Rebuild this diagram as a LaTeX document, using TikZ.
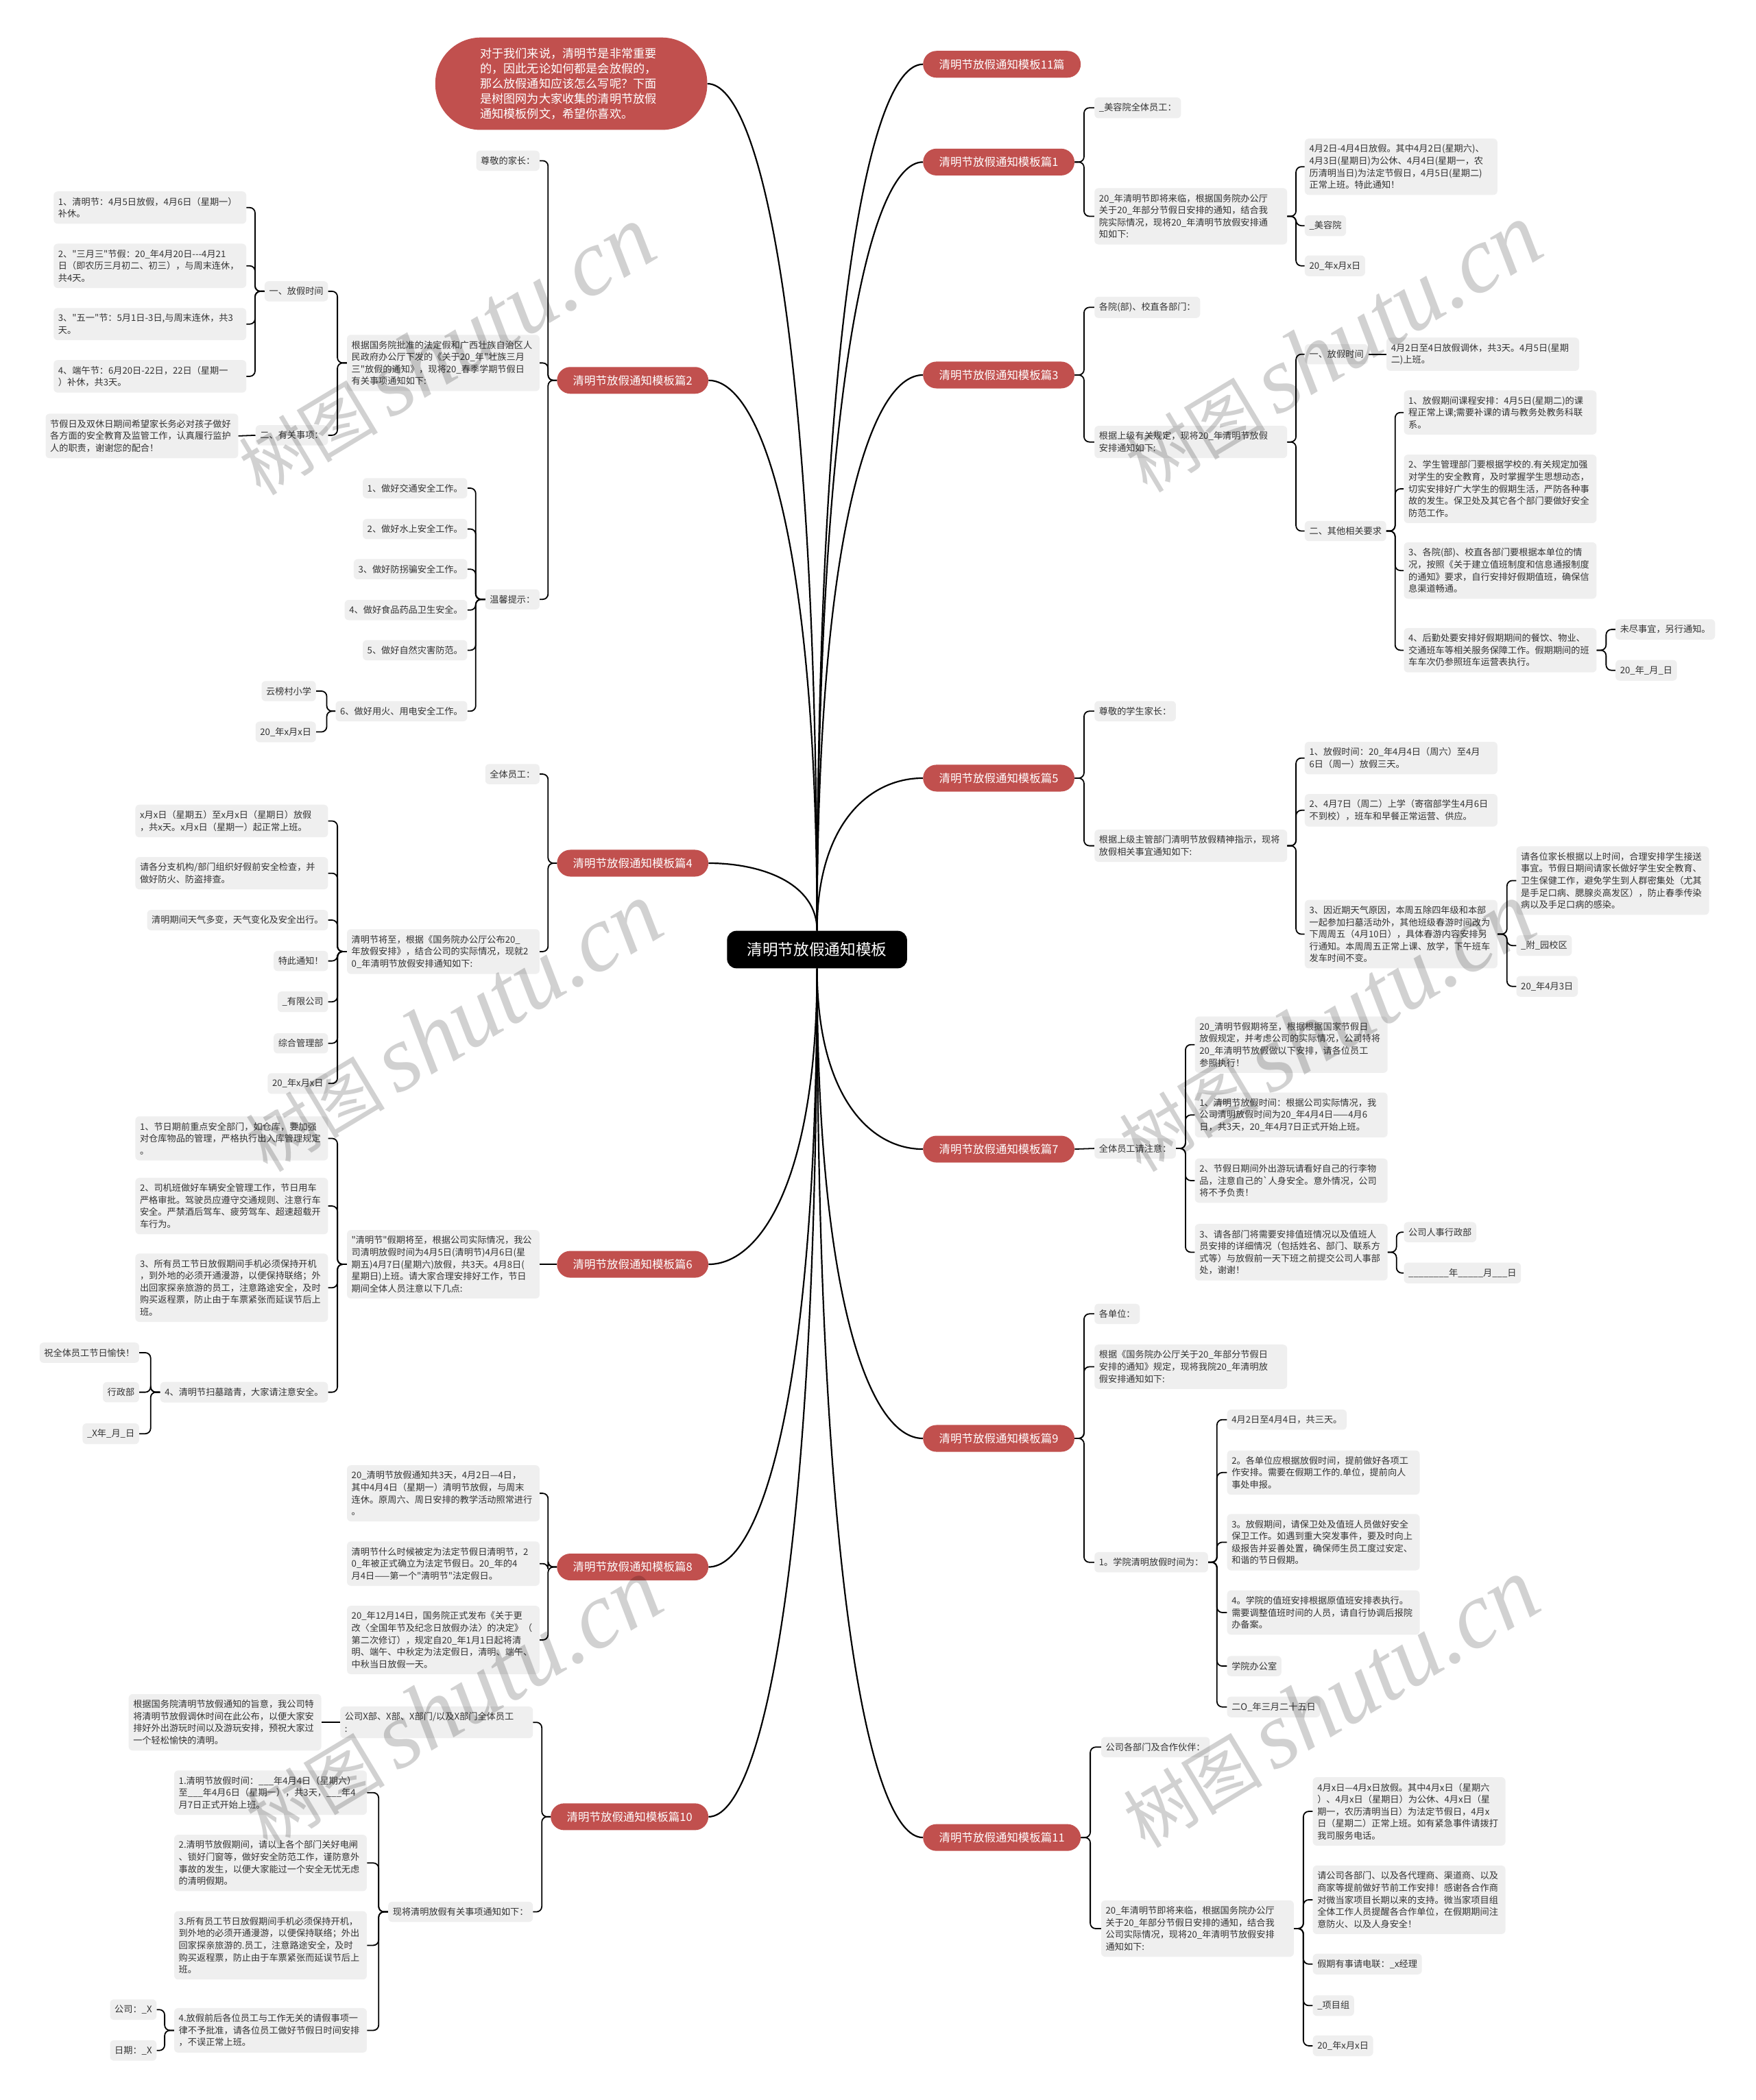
\documentclass[tikz,border=0pt]{standalone}
\usepackage{fontspec}
\setmainfont{Noto Sans CJK SC}[Ligatures=TeXOff]
\newfontfamily\wmfont{Liberation Serif}
\usetikzlibrary{calc}
\definecolor{pillred}{RGB}{193,80,78}
\definecolor{boxfill}{RGB}{239,239,239}
\definecolor{boxtext}{RGB}{51,51,51}
\tikzset{
  box/.style={fill=boxfill, text=boxtext, rounded corners=1.5mm, align=left,
    inner xsep=1.7mm, inner ysep=2.2mm, font=\fontsize{9.6}{12.8}\selectfont},
  widebox/.style={box, text width=68.5mm},
  pill/.style={fill=pillred, text=white, rounded corners=5mm, minimum height=10mm,
    inner xsep=6mm, inner ysep=0pt, font=\fontsize{12}{14}\selectfont},
  hub/.style={fill=black, text=white, rounded corners=3.5mm, minimum height=14mm,
    inner xsep=7.5mm, font=\fontsize{16.5}{18}\selectfont},
  intro/.style={fill=pillred, text=white, rounded corners=17mm, minimum width=101.5mm,
    minimum height=34.5mm, text width=68mm, align=left, font=\fontsize{12.5}{15.9}\selectfont},
  trunk/.style={draw=black, line width=1.6pt},
  link/.style={draw=black, line width=1.3pt, rounded corners=2mm},
  wmark/.style={text=black, text opacity=0.18, rotate=31, font=\fontsize{74}{74}\selectfont},
}

\begin{document}
\begin{tikzpicture}[x=0.5mm, y=-0.5mm]
    \fill[white] (0,0) rectangle (1311,1568);
    \useasboundingbox (0,0) rectangle (1311,1568);

    % centre and branches
    \node[hub] (hub) at (610,709) {清明节放假通知模板};
    \node[intro] (intro) at (426.5,62.5) {对于我们来说，清明节是非常重要\\的，因此无论如何都是会放假的，\\那么放假通知应该怎么写呢？下面\\是树图网为大家收集的清明节放假\\通知模板例文，希望你喜欢。};

    \node[pill, anchor=west] (r11) at (689,48) {清明节放假通知模板11篇};
    \node[pill, anchor=west] (r1) at (689,121) {清明节放假通知模板篇1};
    \node[pill, anchor=west] (r3) at (689,280) {清明节放假通知模板篇3};
    \node[pill, anchor=west] (r5) at (689,581) {清明节放假通知模板篇5};
    \node[pill, anchor=west] (r7) at (689,858) {清明节放假通知模板篇7};
    \node[pill, anchor=west] (r9) at (689,1074) {清明节放假通知模板篇9};
    \node[pill, anchor=west] (r11b) at (689,1372) {清明节放假通知模板篇11};

    \node[pill, anchor=east] (l2) at (529,284) {清明节放假通知模板篇2};
    \node[pill, anchor=east] (l4) at (529,644.5) {清明节放假通知模板篇4};
    \node[pill, anchor=east] (l6) at (529,944) {清明节放假通知模板篇6};
    \node[pill, anchor=east] (l8) at (529,1170) {清明节放假通知模板篇8};
    \node[pill, anchor=east] (l10) at (529,1356.5) {清明节放假通知模板篇10};

    \foreach \p in {r11,r1,r3,r5}
        \draw[trunk] (hub.north) .. controls ($(hub.north |- \p.west)!0.3!(hub.north)$) and ($(\p.west)+(-40,0)$) .. (\p.west);
    \foreach \p in {r7,r9,r11b}
        \draw[trunk] (hub.south) .. controls ($(hub.south |- \p.west)!0.3!(hub.south)$) and ($(\p.west)+(-40,0)$) .. (\p.west);
    \foreach \p in {l2,l4}
        \draw[trunk] (hub.north) .. controls ($(hub.north |- \p.east)!0.3!(hub.north)$) and ($(\p.east)+(40,0)$) .. (\p.east);
    \foreach \p in {l6,l8,l10}
        \draw[trunk] (hub.south) .. controls ($(hub.south |- \p.east)!0.3!(hub.south)$) and ($(\p.east)+(40,0)$) .. (\p.east);
    \draw[trunk] (intro.east) .. controls ($(intro.east)+(40,0)$) and ($(hub.north)!0.7!(hub.north |- intro.east)$) .. (hub.north);

    % branch 2
    \node[box, anchor=east] (a1) at (403,120) {尊敬的家长：};
    \node[widebox, anchor=east] (a2) at (403,271) {根据国务院批准的法定假和广西壮族自治区人\\民政府办公厅下发的《关于20\_年"壮族三月\\三"放假的通知》，现将20\_春季学期节假日\\有关事项通知如下:};
    \node[box, anchor=east] (a3) at (403,447.5) {温馨提示：};
    \node[box, anchor=east] (a21) at (245,217.5) {一、放假时间};
    \node[box, anchor=east] (a22) at (245,325) {二、有关事项：};
    \node[widebox, anchor=east] (a211) at (184,155) {1、清明节：4月5日放假，4月6日（星期一）\\补休。};
    \node[widebox, anchor=east] (a212) at (184,198.5) {2、"三月三"节假：20\_年4月20日-{}-{}-4月21\\日（即农历三月初二、初三），与周末连休，\\共4天。};
    \node[widebox, anchor=east] (a213) at (184,242) {3、"五一"节：5月1日-3日,与周末连休，共3\\天。};
    \node[widebox, anchor=east] (a214) at (184,281) {4、端午节：6月20日-22日，22日（星期一\\）补休，共3天。};
    \node[widebox, anchor=east] (a221) at (178,325.5) {节假日及双休日期间希望家长务必对孩子做好\\各方面的安全教育及监管工作，认真履行监护\\人的职责，谢谢您的配合！};
    \node[box, anchor=east] (a31) at (349,364.5) {1、做好交通安全工作。};
    \node[box, anchor=east] (a32) at (349,395) {2、做好水上安全工作。};
    \node[box, anchor=east] (a33) at (349,425) {3、做好防拐骗安全工作。};
    \node[box, anchor=east] (a34) at (349,455.5) {4、做好食品药品卫生安全。};
    \node[box, anchor=east] (a35) at (349,485.5) {5、做好自然灾害防范。};
    \node[box, anchor=east] (a36) at (349,531) {6、做好用火、用电安全工作。};
    \node[box, anchor=east] (a361) at (236,516) {云榜村小学};
    \node[box, anchor=east] (a362) at (236,546.5) {20\_年x月x日};
    \foreach \c in {a1,a2,a3} \draw[link] (l2.west) -- ++(-6.5,0) |- (\c.east);
    \foreach \c in {a21,a22} \draw[link] (a2.west) -- ++(-7,0) |- (\c.east);
    \foreach \c in {a211,a212,a213,a214} \draw[link] (a21.west) -- ++(-7,0) |- (\c.east);
    \draw[link] (a22.west) -- (a221.east);
    \foreach \c in {a31,a32,a33,a34,a35,a36} \draw[link] (a3.west) -- ++(-7,0) |- (\c.east);
    \foreach \c in {a361,a362} \draw[link] (a36.west) -- ++(-6.5,0) |- (\c.east);

    % branch 4
    \node[box, anchor=east] (b1) at (403,578) {全体员工：};
    \node[widebox, anchor=east] (b2) at (403,710.5) {清明节将至，根据《国务院办公厅公布20\_\\年放假安排》，结合公司的实际情况，现就2\\0\_年清明节放假安排通知如下:};
    \node[widebox, anchor=east] (b21) at (245,613) {x月x日（星期五）至x月x日（星期日）放假\\，共x天。x月x日（星期一）起正常上班。};
    \node[widebox, anchor=east] (b22) at (245,652) {请各分支机构/部门组织好假前安全检查，并\\做好防火、防盗排查。};
    \node[box, anchor=east] (b23) at (245,687) {清明期间天气多变，天气变化及安全出行。};
    \node[box, anchor=east] (b24) at (245,717.5) {特此通知！};
    \node[box, anchor=east] (b25) at (245,748) {\_有限公司};
    \node[box, anchor=east] (b26) at (245,779) {综合管理部};
    \node[box, anchor=east] (b27) at (245,809) {20\_年x月x日};
    \foreach \c in {b1,b2} \draw[link] (l4.west) -- ++(-6.5,0) |- (\c.east);
    \foreach \c in {b21,b22,b23,b24,b25,b26,b27} \draw[link] (b2.west) -- ++(-7,0) |- (\c.east);

    % branch 6
    \node[widebox, anchor=east] (c1) at (403,944) {"清明节"假期将至，根据公司实际情况，我公\\司清明放假时间为4月5日(清明节)4月6日(星\\期五)4月7日(星期六)放假，共3天。4月8日(\\星期日)上班。请大家合理安排好工作，节日\\期间全体人员注意以下几点:};
    \node[widebox, anchor=east] (c11) at (245,850) {1、节日期前重点安全部门，如仓库，要加强\\对仓库物品的管理，严格执行出入库管理规定\\。};
    \node[widebox, anchor=east] (c12) at (245,900.5) {2、司机班做好车辆安全管理工作，节日用车\\严格审批。驾驶员应遵守交通规则、注意行车\\安全。严禁酒后驾车、疲劳驾车、超速超载开\\车行为。};
    \node[widebox, anchor=east] (c13) at (245,961.5) {3、所有员工节日放假期间手机必须保持开机\\，到外地的必须开通漫游，以便保持联络；外\\出回家探亲旅游的员工，注意路途安全，及时\\购买返程票，防止由于车票紧张而延误节后上\\班。};
    \node[box, anchor=east] (c14) at (245,1039.5) {4、清明节扫墓踏青，大家请注意安全。};
    \node[box, anchor=east] (c141) at (104,1010) {祝全体员工节日愉快！};
    \node[box, anchor=east] (c142) at (104,1039.5) {行政部};
    \node[box, anchor=east] (c143) at (104,1070.5) {\_X年\_月\_日};
    \draw[link] (l6.west) -- (c1.east);
    \foreach \c in {c11,c12,c13,c14} \draw[link] (c1.west) -- ++(-7,0) |- (\c.east);
    \foreach \c in {c141,c142,c143} \draw[link] (c14.west) -- ++(-7,0) |- (\c.east);

    % branch 8
    \node[widebox, anchor=east] (d1) at (403,1115) {20\_清明节放假通知共3天，4月2日—4日，\\其中4月4日（星期一）清明节放假，与周末\\连休。原周六、周日安排的教学活动照常进行\\。};
    \node[widebox, anchor=east] (d2) at (403,1167.5) {清明节什么时候被定为法定节假日清明节，2\\0\_年被正式确立为法定节假日。20\_年的4\\月4日——第一个"清明节"法定假日。};
    \node[widebox, anchor=east] (d3) at (403,1224.5) {20\_年12月14日，国务院正式发布《关于更\\改〈全国年节及纪念日放假办法〉的决定》（\\第二次修订），规定自20\_年1月1日起将清\\明、端午、中秋定为法定假日，清明、端午、\\中秋当日放假一天。};
    \foreach \c in {d1,d2,d3} \draw[link] (l8.west) -- ++(-6.5,0) |- (\c.east);

    % branch 10
    \node[widebox, anchor=east] (e1) at (398,1286) {公司X部、X部、X部门/以及X部门全体员工\\:};
    \node[widebox, anchor=east] (e11) at (240,1286) {根据国务院清明节放假通知的旨意，我公司特\\将清明节放假调休时间在此公布，以便大家安\\排好外出游玩时间以及游玩安排，预祝大家过\\一个轻松愉快的清明。};
    \node[box, anchor=east] (e2) at (398,1427.5) {现将清明放假有关事项通知如下：};
    \node[widebox, anchor=east] (e21) at (274,1338.5) {1.清明节放假时间：\_\_\_年4月4日（星期六）\\至\_\_\_年4月6日（星期一），共3天，\_\_\_年4\\月7日正式开始上班。};
    \node[widebox, anchor=east] (e22) at (274,1391) {2.清明节放假期间，请以上各个部门关好电闸\\、锁好门窗等，做好安全防范工作，谨防意外\\事故的发生，以便大家能过一个安全无忧无虑\\的清明假期。};
    \node[widebox, anchor=east] (e23) at (274,1452.5) {3.所有员工节日放假期间手机必须保持开机，\\到外地的必须开通漫游，以便保持联络；外出\\回家探亲旅游的.员工，注意路途安全，及时\\购买返程票，防止由于车票紧张而延误节后上\\班。};
    \node[widebox, anchor=east] (e24) at (274,1516) {4.放假前后各位员工与工作无关的请假事项一\\律不予批准，请各位员工做好节假日时间安排\\，不误正常上班。};
    \node[box, anchor=east] (e241) at (117,1500.5) {公司：\_X};
    \node[box, anchor=east] (e242) at (117,1531) {日期：\_X};
    \foreach \c in {e1,e2} \draw[link] (l10.west) -- ++(-6.5,0) |- (\c.east);
    \draw[link] (e1.west) -- (e11.east);
    \foreach \c in {e21,e22,e23,e24} \draw[link] (e2.west) -- ++(-7,0) |- (\c.east);
    \foreach \c in {e241,e242} \draw[link] (e24.west) -- ++(-7,0) |- (\c.east);

    % branch 1
    \node[box, anchor=west] (f1) at (817,80.5) {\_美容院全体员工：};
    \node[widebox, anchor=west] (f2) at (817,161.5) {20\_年清明节即将来临，根据国务院办公厅\\关于20\_年部分节假日安排的通知，结合我\\院实际情况，现将20\_年清明节放假安排通\\知如下:};
    \node[widebox, anchor=west] (f21) at (974,124.5) {4月2日-4月4日放假。其中4月2日(星期六)、\\4月3日(星期日)为公休、4月4日(星期一，农\\历清明当日)为法定节假日，4月5日(星期二)\\正常上班。特此通知！};
    \node[box, anchor=west] (f22) at (974,168.5) {\_美容院};
    \node[box, anchor=west] (f23) at (974,198.5) {20\_年x月x日};
    \foreach \c in {f1,f2} \draw[link] (r1.east) -- ++(7,0) |- (\c.west);
    \foreach \c in {f21,f22,f23} \draw[link] (f2.east) -- ++(6.5,0) |- (\c.west);

    % branch 3
    \node[box, anchor=west] (g1) at (817,229.5) {各院(部)、校直各部门：};
    \node[widebox, anchor=west] (g2) at (817,330) {根据上级有关规定，现将20\_年清明节放假\\安排通知如下:};
    \node[box, anchor=west] (g21) at (974,264.5) {一、放假时间};
    \node[widebox, anchor=west] (g211) at (1035,264.5) {4月2日至4日放假调休，共3天。4月5日(星期\\二)上班。};
    \node[box, anchor=west] (g22) at (974,396.5) {二、其他相关要求};
    \node[widebox, anchor=west] (g221) at (1048,308) {1、放假期间课程安排：4月5日(星期二)的课\\程正常上课;需要补课的请与教务处教务科联\\系。};
    \node[widebox, anchor=west] (g222) at (1048,365) {2、学生管理部门要根据学校的.有关规定加强\\对学生的安全教育，及时掌握学生思想动态，\\切实安排好广大学生的假期生活，严防各种事\\故的发生。保卫处及其它各个部门要做好安全\\防范工作。};
    \node[widebox, anchor=west] (g223) at (1048,426) {3、各院(部)、校直各部门要根据本单位的情\\况，按照《关于建立值班制度和信息通报制度\\的通知》要求，自行安排好假期值班，确保信\\息渠道畅通。};
    \node[widebox, anchor=west] (g224) at (1048,485.5) {4、后勤处要安排好假期期间的餐饮、物业、\\交通班车等相关服务保障工作。假期期间的班\\车车次仍参照班车运营表执行。};
    \node[box, anchor=west] (g2241) at (1206,470) {未尽事宜，另行通知。};
    \node[box, anchor=west] (g2242) at (1206,500.5) {20\_年\_月\_日};
    \foreach \c in {g1,g2} \draw[link] (r3.east) -- ++(7,0) |- (\c.west);
    \foreach \c in {g21,g22} \draw[link] (g2.east) -- ++(6.5,0) |- (\c.west);
    \draw[link] (g21.east) -- (g211.west);
    \foreach \c in {g221,g222,g223,g224} \draw[link] (g22.east) -- ++(6.5,0) |- (\c.west);
    \foreach \c in {g2241,g2242} \draw[link] (g224.east) -- ++(7,0) |- (\c.west);

    % branch 5
    \node[box, anchor=west] (h1) at (817,531) {尊敬的学生家长：};
    \node[widebox, anchor=west] (h2) at (817,631.5) {根据上级主管部门清明节放假精神指示，现将\\放假相关事宜通知如下:};
    \node[widebox, anchor=west] (h21) at (974,566) {1、放假时间：20\_年4月4日（周六）至4月\\6日（周一）放假三天。};
    \node[widebox, anchor=west] (h22) at (974,605) {2、4月7日（周二）上学（寄宿部学生4月6日\\不到校），班车和早餐正常运营、供应。};
    \node[widebox, anchor=west] (h23) at (974,697.5) {3、因近期天气原因，本周五除四年级和本部\\一起参加扫墓活动外，其他班级春游时间改为\\下周周五（4月10日），具体春游内容安排另\\行通知。本周周五正常上课、放学，下午班车\\发车时间不变。};
    \node[widebox, anchor=west] (h231) at (1132,657.5) {请各位家长根据以上时间，合理安排学生接送\\事宜。节假日期间请家长做好学生安全教育、\\卫生保健工作，避免学生到人群密集处（尤其\\是手足口病、腮腺炎高发区），防止春季传染\\病以及手足口病的感染。};
    \node[box, anchor=west] (h232) at (1132,706) {\_附\_园校区};
    \node[box, anchor=west] (h233) at (1132,736.5) {20\_年4月3日};
    \foreach \c in {h1,h2} \draw[link] (r5.east) -- ++(7,0) |- (\c.west);
    \foreach \c in {h21,h22,h23} \draw[link] (h2.east) -- ++(6.5,0) |- (\c.west);
    \foreach \c in {h231,h232,h233} \draw[link] (h23.east) -- ++(7,0) |- (\c.west);

    % branch 7
    \node[box, anchor=west] (i1) at (817,857.5) {全体员工请注意：};
    \node[widebox, anchor=west] (i11) at (892,780) {20\_清明节假期将至，根据根据国家节假日\\放假规定，并考虑公司的实际情况，公司特将\\20\_年清明节放假做以下安排，请各位员工\\参照执行！};
    \node[widebox, anchor=west] (i12) at (892,832.5) {1、清明节放假时间：根据公司实际情况，我\\公司清明放假时间为20\_年4月4日——4月6\\日，共3天，20\_年4月7日正式开始上班。};
    \node[widebox, anchor=west] (i13) at (892,881.5) {2、节假日期间外出游玩请看好自己的行李物\\品，注意自己的`人身安全。意外情况，公司\\将不予负责！};
    \node[widebox, anchor=west] (i14) at (892,935) {3、请各部门将需要安排值班情况以及值班人\\员安排的详细情况（包括姓名、部门、联系方\\式等）与放假前一天下班之前提交公司人事部\\处，谢谢！};
    \node[box, anchor=west] (i141) at (1048,920) {公司人事行政部};
    \node[box, anchor=west] (i142) at (1048,950.5) {\_\_\_\_\_\_\_\_年\_\_\_\_\_月\_\_\_日};
    \draw[link] (r7.east) -- (i1.west);
    \foreach \c in {i11,i12,i13,i14} \draw[link] (i1.east) -- ++(7,0) |- (\c.west);
    \foreach \c in {i141,i142} \draw[link] (i14.east) -- ++(6.5,0) |- (\c.west);

    % branch 9
    \node[box, anchor=west] (j1) at (817,981) {各单位：};
    \node[widebox, anchor=west] (j2) at (817,1020.5) {根据《国务院办公厅关于20\_年部分节假日\\安排的通知》规定，现将我院20\_年清明放\\假安排通知如下:};
    \node[box, anchor=west] (j3) at (817,1166.5) {1。学院清明放假时间为：};
    \node[box, anchor=west] (j31) at (916,1060) {4月2日至4月4日，共三天。};
    \node[widebox, anchor=west] (j32) at (916,1099.5) {2。各单位应根据放假时间，提前做好各项工\\作安排。需要在假期工作的.单位，提前向人\\事处申报。};
    \node[widebox, anchor=west] (j33) at (916,1151.5) {3。放假期间，请保卫处及值班人员做好安全\\保卫工作。如遇到重大突发事件，要及时向上\\级报告并妥善处置，确保师生员工度过安定、\\和谐的节日假期。};
    \node[widebox, anchor=west] (j34) at (916,1204) {4。学院的值班安排根据原值班安排表执行。\\需要调整值班时间的人员，请自行协调后报院\\办备案。};
    \node[box, anchor=west] (j35) at (916,1244) {学院办公室};
    \node[box, anchor=west] (j36) at (916,1274.5) {二O\_年三月二十五日};
    \foreach \c in {j1,j2,j3} \draw[link] (r9.east) -- ++(7,0) |- (\c.west);
    \foreach \c in {j31,j32,j33,j34,j35,j36} \draw[link] (j3.east) -- ++(6.5,0) |- (\c.west);

    % branch 11
    \node[box, anchor=west] (k1) at (822,1304.5) {公司各部门及合作伙伴：};
    \node[widebox, anchor=west] (k2) at (822,1440) {20\_年清明节即将来临，根据国务院办公厅\\关于20\_年部分节假日安排的通知，结合我\\公司实际情况，现将20\_年清明节放假安排\\通知如下:};
    \node[widebox, anchor=west] (k21) at (980,1352.5) {4月x日—4月x日放假。其中4月x日（星期六\\）、4月x日（星期日）为公休、4月x日（星\\期一，农历清明当日）为法定节假日，4月x\\日（星期二）正常上班。如有紧急事件请拨打\\我司服务电话。};
    \node[widebox, anchor=west] (k22) at (980,1418.5) {请公司各部门、以及各代理商、渠道商、以及\\商家等提前做好节前工作安排！感谢各合作商\\对微当家项目长期以来的支持。微当家项目组\\全体工作人员提醒各合作单位，在假期期间注\\意防火、以及人身安全！};
    \node[box, anchor=west] (k23) at (980,1466.5) {假期有事请电联：\_x经理};
    \node[box, anchor=west] (k24) at (980,1497.5) {\_项目组};
    \node[box, anchor=west] (k25) at (980,1527.5) {20\_年x月x日};
    \foreach \c in {k1,k2} \draw[link] (r11b.east) -- ++(7,0) |- (\c.west);
    \foreach \c in {k21,k22,k23,k24,k25} \draw[link] (k2.east) -- ++(7,0) |- (\c.west);

    % watermarks
    \foreach \wx/\wy in {333/262, 995/260, 338/767, 990/767, 338/1272, 993/1272}
        \node[wmark] (wm) at (\wx,\wy) {树图\,{\wmfont\itshape\fontsize{100}{100}\selectfont shutu.cn}};
\end{tikzpicture}
\end{document}
